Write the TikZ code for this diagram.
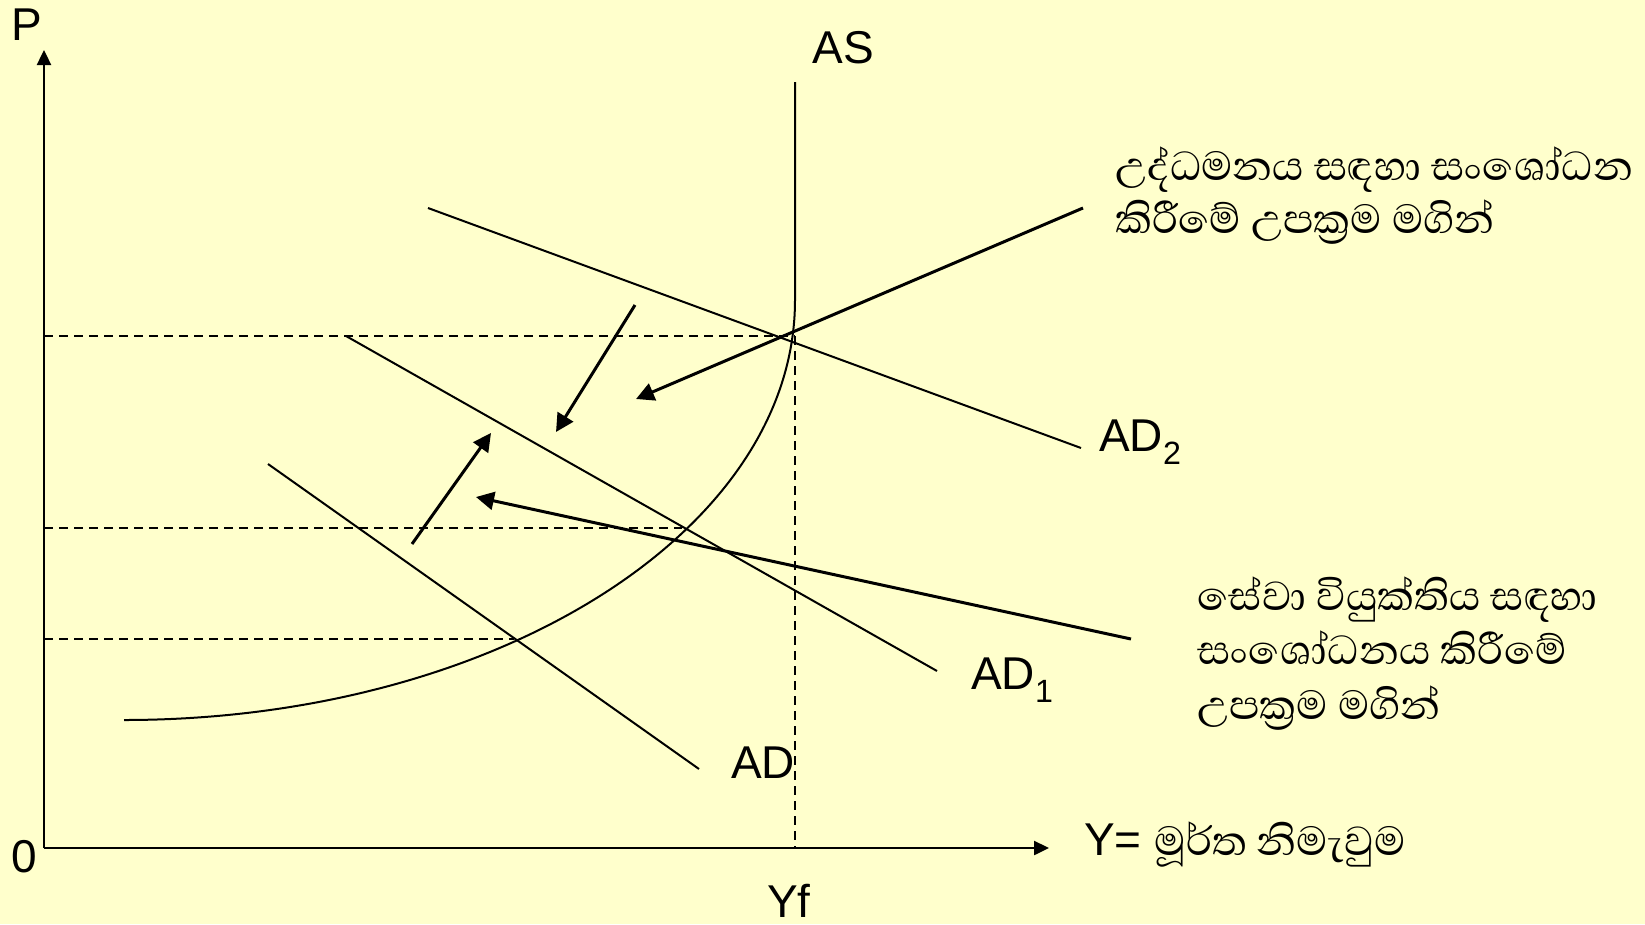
\documentclass[tikz,border=0pt]{standalone}
\usepackage{fontspec}
\setmainfont{Liberation Sans}
\newfontfamily\sinhalafont[Script=Sinhala]{Abhaya Libre}
\usetikzlibrary{arrows.meta}
\definecolor{bg}{RGB}{255,255,204}
\tikzset{
  curve/.style={line width=2pt},
  shiftarrow/.style={line width=3pt,-{Triangle[length=18pt,width=18pt]}},
  guide/.style={line width=1.6pt,dash pattern=on 9pt off 6pt},
  axis/.style={line width=2.4pt,-{Triangle[length=15pt,width=14pt]}},
  lbl/.style={font=\fontsize{46}{52}\selectfont,inner sep=0pt},
  sin/.style={font=\fontsize{52}{56}\selectfont\sinhalafont,inner sep=0pt,align=left}
}
\begin{document}
\begin{tikzpicture}[x=1pt,y=-1pt]
\path[fill=bg] (0,0) rectangle (1645,924);
% axes
\coordinate (O) at (44,848);
\coordinate (Ptip) at (44,50);
\coordinate (Ytip) at (1049,848);
\draw[axis] (O) -- (Ptip);
\draw[axis] (O) -- (Ytip);
% guides
\coordinate (E) at (795,336);
\coordinate (Ey) at (44,336);
\coordinate (Yf) at (795,848);
\coordinate (M) at (682,528);
\coordinate (My) at (44,528);
\coordinate (L) at (514,639);
\coordinate (Ly) at (44,639);
\draw[guide] (Ey) -- (E);
\draw[guide] (E) -- (Yf);
\draw[guide] (My) -- (M);
\draw[guide] (Ly) -- (L);
% AS curve
\coordinate (AStop) at (795,82);
\coordinate (ASbend) at (795,300);
\coordinate (ASend) at (124,720);
\draw[curve] (AStop) -- (ASbend) .. controls (795,532) and (494,720) .. (ASend);
% AD lines
\coordinate (AD2a) at (428,208);
\coordinate (AD2b) at (1081,448);
\coordinate (AD1a) at (346,336);
\coordinate (AD1b) at (937,671);
\coordinate (AD0a) at (268,464);
\coordinate (AD0b) at (699,769);
\draw[curve] (AD2a) -- (AD2b);
\draw[curve] (AD1a) -- (AD1b);
\draw[curve] (AD0a) -- (AD0b);
% shift arrows
\coordinate (A1s) at (1083,208);
\coordinate (A1e) at (636,399);
\coordinate (A2s) at (1131,639);
\coordinate (A2e) at (476,497);
\coordinate (A3s) at (635,305);
\coordinate (A3e) at (556,432);
\coordinate (A4s) at (412,544);
\coordinate (A4e) at (491,433);
\draw[shiftarrow] (A1s) -- (A1e);
\draw[shiftarrow] (A2s) -- (A2e);
\draw[shiftarrow] (A3s) -- (A3e);
\draw[shiftarrow] (A4s) -- (A4e);
% labels
\node[lbl] (Plbl) at (27,25) {P};
\node[lbl] (zero) at (24,857) {0};
\node[lbl] (ASlbl) at (843,48) {AS};
\node[lbl] (Yflbl) at (789,901) {Yf};
\node[lbl,anchor=base west] (AD2lbl) at (1099,451) {AD\textsubscript{2}};
\node[lbl,anchor=base west] (AD1lbl) at (971,689) {AD\textsubscript{1}};
\node[lbl,anchor=base west] (ADlbl) at (731,778) {AD};
\node[lbl,anchor=base west] (Ylbl) at (1084,855) {Y= {\fontsize{52}{56}\selectfont\sinhalafont මූර්ත නිමැවුම}};
\node[sin,anchor=base west] (top1) at (1115,180) {උද්ධමනය සඳහා සංශෝධන};
\node[sin,anchor=base west] (top2) at (1115,233) {කිරීමේ උපක්‍රම මගින්};
\node[sin,anchor=base west] (bot1) at (1197,610) {සේවා වියුක්තිය සඳහා};
\node[sin,anchor=base west] (bot2) at (1197,664) {සංශෝධනය කිරීමේ};
\node[sin,anchor=base west] (bot3) at (1197,719) {උපක්‍රම මගින්};
\end{tikzpicture}
\end{document}
